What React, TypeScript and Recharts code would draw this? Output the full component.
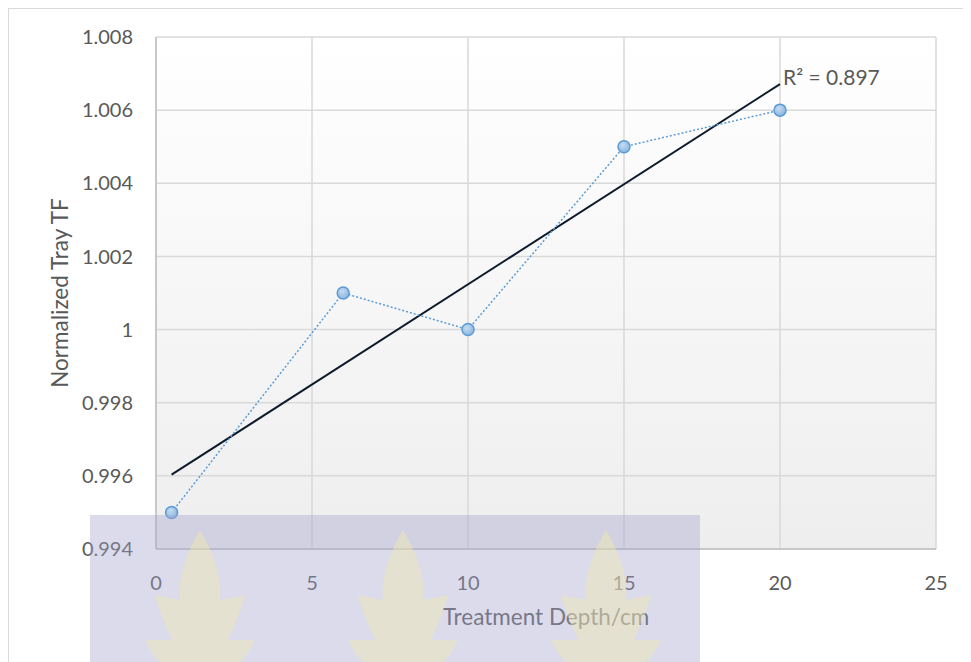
import {
  ScatterChart,
  Scatter,
  XAxis,
  YAxis,
  CartesianGrid,
} from 'recharts';

const depth = [0.5, 6, 10, 15, 20];
const trayTF = [0.995, 1.001, 1.0, 1.005, 1.006];
const xTicks = [0, 5, 10, 15, 20, 25];
const yTicks = [0.994, 0.996, 0.998, 1.0, 1.002, 1.004, 1.006, 1.008];
const rSquaredLabel = 'R² = 0.897';

const points = depth.map((x, i) => ({ x, y: trayTF[i] }));

// least squares fit, drawn over the range of the data like Excel does
function linearFit(xs: number[], ys: number[]) {
  const n = xs.length;
  const mx = xs.reduce((a, b) => a + b, 0) / n;
  const my = ys.reduce((a, b) => a + b, 0) / n;
  let sxy = 0;
  let sxx = 0;
  xs.forEach((x, i) => {
    sxy += (x - mx) * (ys[i] - my);
    sxx += (x - mx) * (x - mx);
  });
  const slope = sxy / sxx;
  return (x: number) => my + slope * (x - mx);
}

const fit = linearFit(depth, trayTF);
const xMin = Math.min(...depth);
const xMax = Math.max(...depth);
const trend = [
  { x: xMin, y: fit(xMin) },
  { x: xMax, y: fit(xMax) },
];

const FONT = 'Lato, "Open Sans", sans-serif';
const TEXT = '#595959';

function Marker(props: any) {
  const { cx, cy } = props;
  return <circle cx={cx} cy={cy} r={6} fill="url(#markerGrad)" stroke="#5b9bd5" strokeWidth={1.5} />;
}

function TrendEnd(props: any) {
  const { cx, cy, payload } = props;
  if (payload.x !== xMax) return <g />;
  return (
    <text x={cx + 3} y={cy + 1} fill={TEXT} fontSize={21} fontFamily={FONT}>
      {rSquaredLabel}
    </text>
  );
}

function Watermark() {
  const leaf = (cx: number) =>
    `M ${cx} 530 C ${cx + 18} 560 ${cx + 22} 585 ${cx + 20} 600 L ${cx + 45} 595 C ${cx + 40} 615 ${cx + 32} 630 ${cx + 28} 640 L ${cx + 55} 640 C ${cx + 50} 650 ${cx + 45} 658 ${cx + 40} 662 L ${cx - 40} 662 C ${cx - 45} 658 ${cx - 50} 650 ${cx - 55} 640 L ${cx - 28} 640 C ${cx - 32} 630 ${cx - 40} 615 ${cx - 45} 595 L ${cx - 20} 600 C ${cx - 22} 585 ${cx - 18} 560 ${cx} 530 Z`;
  return (
    <svg
      width={971}
      height={662}
      style={{ position: 'absolute', left: -8, top: -8, pointerEvents: 'none' }}
    >
      <rect x={90} y={515} width={610} height={147} fill="rgba(165,165,205,0.4)" />
      {[200, 403, 606].map((c) => (
        <path key={c} d={leaf(c)} fill="rgba(240,232,175,0.45)" />
      ))}
    </svg>
  );
}

export default function App() {
  return (
    <div style={{ position: 'relative', width: 963, height: 656 }}>
      <svg width={0} height={0} style={{ position: 'absolute' }}>
        <defs>
          <linearGradient id="plotGrad" x1="0" y1="0" x2="0" y2="1">
            <stop offset="0%" stopColor="#ffffff" />
            <stop offset="100%" stopColor="#eeeeee" />
          </linearGradient>
          <radialGradient id="markerGrad" cx="0.4" cy="0.35" r="0.7">
            <stop offset="0%" stopColor="#c6dcf1" />
            <stop offset="100%" stopColor="#86b3e0" />
          </radialGradient>
        </defs>
      </svg>
      <div
        style={{
          position: 'absolute',
          left: 0,
          top: 0,
          width: 963,
          height: 656,
          border: '1px solid #d9d9d9',
          boxSizing: 'border-box',
          background: '#fff',
        }}
      />
      <div style={{ position: 'absolute', left: 0, top: 0 }}>
        <ScatterChart width={963} height={656} margin={{ top: 29, right: 35, bottom: 55, left: 0 }}>
          <CartesianGrid stroke="#d9d9d9" strokeWidth={1.5} fill="url(#plotGrad)" />
          <XAxis
            type="number"
            dataKey="x"
            domain={[0, 25]}
            ticks={xTicks}
            interval={0}
            height={60}
            tickSize={0}
            tickMargin={27}
            tickLine={false}
            axisLine={{ stroke: '#bfbfbf', strokeWidth: 1.5 }}
            tick={{ fontSize: 20, fill: TEXT, fontFamily: FONT }}
            label={{
              value: 'Treatment Depth/cm',
              position: 'insideBottom',
              offset: -16,
              fontSize: 22.5,
              fill: TEXT,
              fontFamily: FONT,
            }}
          />
          <YAxis
            type="number"
            dataKey="y"
            domain={[0.994, 1.008]}
            ticks={yTicks}
            interval={0}
            width={148}
            tickSize={0}
            tickMargin={23}
            tickLine={false}
            axisLine={{ stroke: '#bfbfbf', strokeWidth: 1.5 }}
            tickFormatter={(v: number) => String(+v.toFixed(3))}
            tick={{ fontSize: 20, fill: TEXT, fontFamily: FONT }}
            label={{
              value: 'Normalized Tray TF',
              angle: -90,
              position: 'insideLeft',
              offset: 52,
              style: { textAnchor: 'middle' },
              fontSize: 22.5,
              fill: TEXT,
              fontFamily: FONT,
            }}
          />
          <Scatter
            data={trend}
            isAnimationActive={false}
            line={{ stroke: '#0e1b2c', strokeWidth: 2 }}
            shape={<TrendEnd />}
          />
          <Scatter
            data={points}
            isAnimationActive={false}
            line={{ stroke: '#5b9bd5', strokeWidth: 1.5, strokeDasharray: '2 2' }}
            shape={<Marker />}
          />
        </ScatterChart>
      </div>
      <Watermark />
    </div>
  );
}
